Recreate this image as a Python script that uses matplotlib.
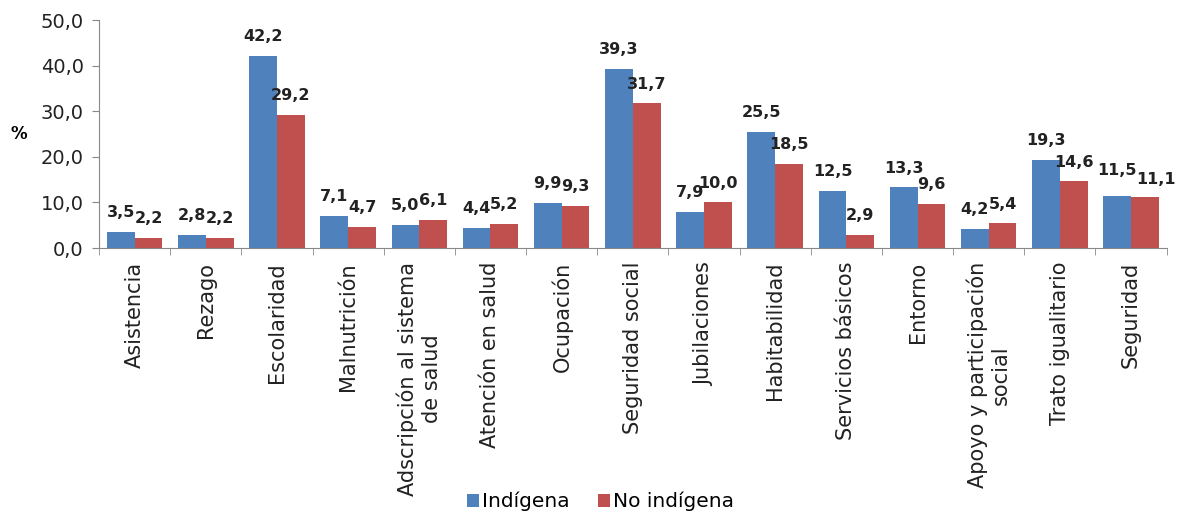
import numpy as np
import matplotlib.pyplot as plt

categories = ['Asistencia', 'Rezago', 'Escolaridad', 'Malnutrición',
              'Adscripción al sistema\nde salud', 'Atención en salud', 'Ocupación',
              'Seguridad social', 'Jubilaciones', 'Habitabilidad', 'Servicios básicos',
              'Entorno', 'Apoyo y participación\nsocial', 'Trato igualitario', 'Seguridad']
indigena = [3.5, 2.8, 42.2, 7.1, 5.0, 4.4, 9.9, 39.3, 7.9, 25.5, 12.5, 13.3, 4.2, 19.3, 11.5]
no_indigena = [2.2, 2.2, 29.2, 4.7, 6.1, 5.2, 9.3, 31.7, 10.0, 18.5, 2.9, 9.6, 5.4, 14.6, 11.1]
yticks = [0, 10, 20, 30, 40, 50]

blue = '#4F81BD'
red = '#C0504D'

fig = plt.figure(figsize=(11.82, 5.14), dpi=100)
ax = fig.add_axes([0.0838, 0.5175, 0.9032, 0.4435])

x = np.arange(len(categories))
w = 0.39
b1 = ax.bar(x - w / 2, indigena, w, color=blue, label='Indígena')
b2 = ax.bar(x + w / 2, no_indigena, w, color=red, label='No indígena')

def fmt(v):
    return f'{v:.1f}'.replace('.', ',')

# the last pair of labels is nudged apart so they don't collide
nudge = {(0, 14): (0, 4), (1, 14): (8, -1)}

for k, (bars, vals) in enumerate(((b1, indigena), (b2, no_indigena))):
    for i, (rect, v) in enumerate(zip(bars, vals)):
        dx, dy = nudge.get((k, i), (0, 0))
        ax.annotate(fmt(v), (rect.get_x() + rect.get_width() / 2, v),
                    xytext=(dx, 8.5 + dy), textcoords='offset points',
                    ha='center', va='bottom', fontsize=11.5, fontweight='bold',
                    color='#222222')

ax.set_xlim(-0.5, len(categories) - 0.5)
ax.set_ylim(0, 50)
ax.set_yticks(yticks)
ax.set_yticklabels([fmt(t) for t in yticks], fontsize=14, color='#222222')

ax.set_xticks(x)
ax.set_xticklabels(categories, rotation=90, fontsize=15, ha='center', va='top',
                   multialignment='center', color='#222222')
ax.set_xticks(np.arange(-0.5, len(categories)), minor=True)
ax.tick_params(axis='x', which='major', length=0, pad=10)
ax.tick_params(axis='x', which='minor', length=5, color='#888888')
ax.tick_params(axis='y', length=5, color='#888888', pad=6)

for s in ('top', 'right'):
    ax.spines[s].set_visible(False)
for s in ('left', 'bottom'):
    ax.spines[s].set_color('#888888')

fig.text(0.009, 0.74, '%', fontsize=12, fontweight='bold', ha='left', va='center')

fig.legend(handles=[b1, b2], loc='lower center', bbox_to_anchor=(0.508, -0.03), ncol=2,
           frameon=False, fontsize=14.5, handlelength=0.6, handleheight=0.6,
           handletextpad=0.15, columnspacing=1.4)

fig.savefig('out.png', dpi=100)
